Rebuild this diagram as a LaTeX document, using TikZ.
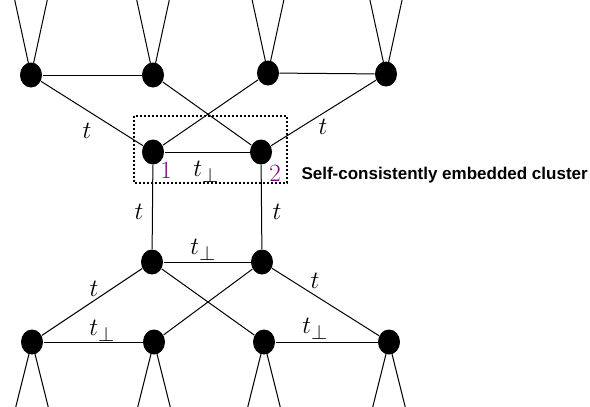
\documentclass[tikz,border=0pt]{standalone}
\usepackage{fontspec}
\usetikzlibrary{shapes.geometric}
\newfontfamily\capfont{Liberation Sans}
\definecolor{sitenum}{RGB}{128,0,128}
\newcommand{\tperp}     {t_{\perp}}
\newcommand{\hsz}       {\fontsize{24.88}{30}\selectfont}

\begin{document}
\begin{tikzpicture}[x=1pt,y=-1pt,line width=1pt,
    site/.style={ellipse,fill=black,inner sep=0pt,minimum width=22pt,minimum height=25pt},
    hop/.style={font=\hsz,inner sep=0pt},
    num/.style={hop,text=sitenum}]
    \useasboundingbox (0,0) rectangle (590,407);
    \node[site] (T1) at ( 31, 75) {};
    \node[site] (T2) at (153, 75) {};
    \node[site] (T3) at (268, 73) {};
    \node[site] (T4) at (386, 74) {};
    \node[site] (C1) at (153,152) {};
    \node[site] (C2) at (261,152) {};
    \node[site] (M1) at (152,262) {};
    \node[site] (M2) at (262,262) {};
    \node[site] (B1) at ( 32,342) {};
    \node[site] (B2) at (154,342) {};
    \node[site] (B3) at (264,342) {};
    \node[site] (B4) at (389,342) {};
    \foreach \n in {T1,T2,T3,T4} {
      \draw (\n.center) -- ++(-16.5,-76);
      \draw (\n.center) -- ++( 16.5,-76);
    }
    \foreach \n in {B1,B2,B3,B4} {
      \draw (\n.center) -- ++(-16.5,66);
      \draw (\n.center) -- ++( 16.5,66);
    }
    \draw (T1) -- (T2);
    \draw (T3) -- (T4);
    \draw (T1) -- (C1);
    \draw (T2) -- (C2);
    \draw (T3) -- (C1);
    \draw (T4) -- (C2);
    \draw (C1) -- (C2);
    \draw (C1) -- (M1);
    \draw (C2) -- (M2);
    \draw (M1) -- (M2);
    \draw (M1) -- (B1);
    \draw (M1) -- (B3);
    \draw (M2) -- (B2);
    \draw (M2) -- (B4);
    \draw (B1) -- (B2);
    \draw (B3) -- (B4);
    \draw[line width=2pt,dash pattern=on 2pt off 2pt] (134,116) rectangle (287,183);
    \node[hop] (tA) at ( 87,131) {$t$};
    \node[hop] (tB) at (323,127) {$t$};
    \node[hop] (tC) at (206,172) {$\tperp$};
    \node[num] (n1) at (166,170) {1};
    \node[num] (n2) at (275,173) {2};
    \node[hop] (tD) at (139,212) {$t$};
    \node[hop] (tE) at (277,212) {$t$};
    \node[hop] (tF) at (203,250) {$\tperp$};
    \node[hop] (tG) at ( 94,289) {$t$};
    \node[hop] (tH) at (315,281) {$t$};
    \node[hop] (tI) at (102,331) {$\tperp$};
    \node[hop] (tJ) at (315,329) {$\tperp$};
    \node[anchor=base west,inner sep=0pt,font=\capfont\bfseries\fontsize{17}{20}\selectfont] (cap) at (301,179) {Self-consistently embedded cluster};
  \end{tikzpicture}
\end{document}
